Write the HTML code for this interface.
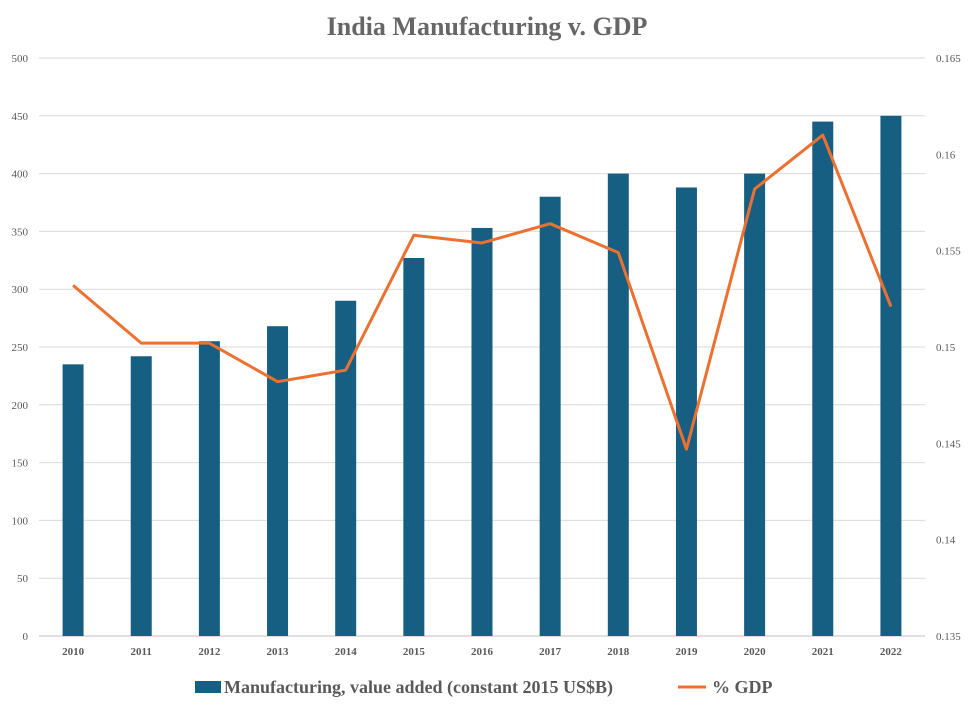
<!DOCTYPE html>
<html><head><meta charset="utf-8"><style>
body{margin:0;background:#fff;font-family:"Liberation Serif",serif;}
svg text{font-family:"Liberation Serif",serif;}
</style></head><body>
<svg id="chart" width="975" height="707" xmlns="http://www.w3.org/2000/svg">
<text x="487" y="35" text-anchor="middle" font-size="26" font-weight="bold" fill="#666">India Manufacturing v. GDP</text>
<g id="grid"></g><g id="bars"></g><g id="line"></g><g id="axes"></g>
<g>
<rect x="195" y="681" width="26" height="12" fill="#175f82"/>
<text x="224" y="693" font-size="18" font-weight="bold" fill="#595959">Manufacturing, value added (constant 2015 US$B)</text>
<line x1="678" y1="687" x2="706" y2="687" stroke="#ec7131" stroke-width="3"/>
<text x="712" y="693" font-size="18" font-weight="bold" fill="#595959">% GDP</text>
</g>
</svg>
<script>
const years=["2010","2011","2012","2013","2014","2015","2016","2017","2018","2019","2020","2021","2022"];
const manufacturing=[235,242,255,268,290,327,353,380,400,388,400,445,450];
const gdpShare=[0.1532,0.1502,0.1502,0.1482,0.1488,0.1558,0.1554,0.1564,0.1549,0.1447,0.1582,0.1610,0.1521];
const leftTicks=[0,50,100,150,200,250,300,350,400,450,500];
const rightTicks=["0.135","0.14","0.145","0.15","0.155","0.16","0.165"];
const NS="http://www.w3.org/2000/svg";
const x0=39,x1=925,yTop=58,yBot=636;
const bw=(x1-x0)/years.length;
const xC=i=>x0+bw*(i+0.5);
const yL=v=>yBot-(v-0)/(500-0)*(yBot-yTop);
const yR=v=>yBot-(v-0.135)/(0.165-0.135)*(yBot-yTop);
function mk(tag,attrs,parent){const e=document.createElementNS(NS,tag);for(const k in attrs)e.setAttribute(k,attrs[k]);parent.appendChild(e);return e;}
const grid=document.getElementById('grid'),axes=document.getElementById('axes'),bars=document.getElementById('bars'),line=document.getElementById('line');
leftTicks.forEach(t=>{
  const g=mk('line',{x1:x0,x2:x1,y1:yL(t),y2:yL(t),stroke:t===0?'#bfbfbf':'#d9d9d9','stroke-width':1},grid);
  
  
  const tx=mk('text',{x:28,y:yL(t)+4,'text-anchor':'end','font-size':11,fill:'#595959'},axes);
  tx.textContent=t;
  
  
});
rightTicks.forEach(t=>{
  const tx=mk('text',{x:936,y:yR(parseFloat(t))+4,'font-size':11,fill:'#595959'},axes);
  tx.textContent=t;
  
  
});
years.forEach((y,i)=>{
  const tx=mk('text',{x:xC(i),y:655,'text-anchor':'middle','font-size':11,'font-weight':'bold',fill:'#595959'},axes);
  tx.textContent=y;
  
  
  const r=mk('rect',{x:xC(i)-10.5,y:yL(manufacturing[i]),width:21,height:yBot-yL(manufacturing[i]),fill:'#175f82'},bars);
  
  
});
const pl=mk('polyline',{points:gdpShare.map((v,i)=>xC(i)+','+yR(v)).join(' '),fill:'none',stroke:'#ec7131','stroke-width':3,'stroke-linejoin':'round'},line);


</script>
</body></html>
